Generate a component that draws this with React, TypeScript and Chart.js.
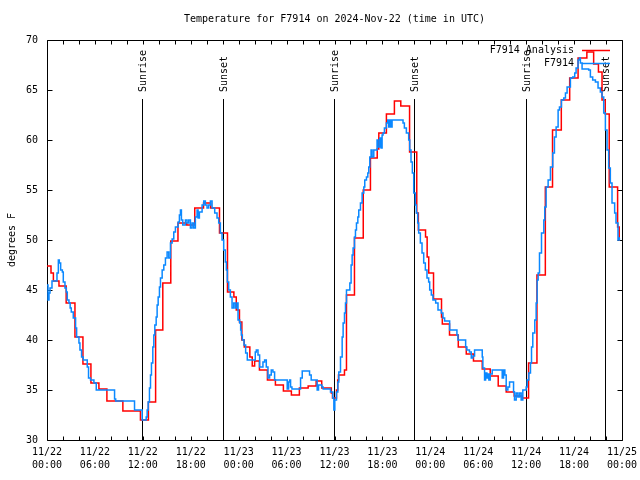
import React, { useEffect, useRef } from "react";
import { Chart, registerables } from "chart.js";

Chart.register(...registerables);

const FONT = '"DejaVu Sans Mono", "Liberation Mono", monospace';

const chartTitle = "Temperature for F7914 on 2024-Nov-22 (time in UTC)";
const yAxisTitle = "degrees F";
const analysisLabel = "F7914 Analysis";
const obsLabel = "F7914";
const analysisColor = "#ff0000";
const obsColor = "#0a88ff";

// hours since 2024-11-22 00:00 UTC where each value starts (step series)
const analysisHours = [
  0, 0.5, 0.8, 1.5, 2.4, 3.5, 4.5, 5.5, 6.5, 7.5,
  9.5, 11.7, 12.7, 13.6, 14.5, 15.5, 16.4, 17.5, 18.5, 19.6,
  20.5, 21.6, 22.6, 23.4, 23.7, 24.1, 24.4, 24.7, 25.4, 25.7,
  26.0, 26.6, 27.6, 28.6, 29.6, 30.6, 31.6, 32.7, 33.7, 34.4,
  35.6, 35.75, 36.25, 36.4, 36.5, 37.25, 37.5, 38.5, 39.6, 40.5,
  41.35, 41.55, 42.5, 43.5, 44.3, 45.4, 46.3, 46.5, 47.4, 47.6,
  47.8, 48.4, 49.4, 49.5, 50.4, 51.5, 52.5, 53.4, 54.5, 55.5,
  56.5, 57.5, 58.5, 59.5, 60.3, 61.35, 62.4, 63.3, 64.4, 65.45,
  66.5, 67.6, 68.45, 69.05, 69.5, 69.9, 70.4, 71.45, 71.65,
];
const analysisTemps = [
  47.4, 46.7, 45.9, 45.4, 43.7, 40.3, 37.6, 35.7, 35.1, 33.9,
  32.9, 32.0, 33.8, 41.0, 45.7, 49.9, 51.7, 51.5, 53.2, 53.7,
  53.2, 50.7, 44.8, 44.3, 43.0, 41.8, 40.0, 39.3, 38.3, 37.4,
  37.9, 37.0, 36.0, 35.5, 34.9, 34.5, 35.2, 35.4, 35.9, 35.2,
  34.7, 34.2, 35.0, 36.0, 36.5, 37.0, 44.5, 50.2, 55.0, 58.2,
  59.1, 60.7, 62.6, 63.9, 63.4, 58.8, 52.7, 51.0, 50.3, 48.3,
  46.7, 44.1, 42.3, 41.6, 40.5, 39.3, 38.6, 37.9, 37.1, 36.4,
  35.4, 34.8, 34.4, 34.2, 37.7, 46.5, 55.3, 61.0, 64.0, 66.2,
  68.2, 68.8, 67.6, 66.8, 64.0, 62.6, 55.3, 51.3, 50.0,
];

const obsHours = [
  0, 0.125, 0.25, 0.375, 0.625, 1.25, 1.42, 1.54, 1.71, 1.92,
  2.04, 2.25, 2.42, 2.54, 2.75, 2.9, 3.04, 3.29, 3.58, 3.71,
  4.0, 4.125, 4.33, 4.54, 5.04, 5.2, 5.45, 5.875, 6.17, 8.46,
  8.6, 10.96, 11.92, 12.42, 12.54, 12.67, 12.83, 12.96, 13.08, 13.25,
  13.375, 13.5, 13.67, 13.79, 13.92, 14.08, 14.21, 14.42, 14.625, 14.83,
  15.04, 15.25, 15.46, 15.67, 15.875, 16.08, 16.42, 16.58, 16.71, 16.83,
  17.0, 17.33, 17.54, 17.75, 17.96, 18.17, 18.375, 18.58, 18.79, 18.92,
  19.08, 19.42, 19.625, 19.83, 20.04, 20.25, 20.46, 20.67, 21.0, 21.29,
  21.5, 21.71, 21.92, 22.125, 22.33, 22.46, 22.58, 22.75, 22.96, 23.17,
  23.375, 23.58, 23.79, 23.92, 24.125, 24.25, 24.33, 24.46, 24.67, 24.875,
  25.08, 26.08, 26.21, 26.42, 26.625, 27.04, 27.25, 27.46, 27.67, 27.875,
  28.08, 28.29, 28.5, 30.08, 30.25, 30.375, 30.5, 30.67, 31.75, 31.96,
  32.875, 33.08, 33.83, 34.0, 34.42, 34.58, 35.5, 35.79, 35.92, 36.04,
  36.25, 36.42, 36.54, 36.75, 36.96, 37.08, 37.25, 37.375, 37.5, 37.92,
  38.08, 38.21, 38.33, 38.5, 38.625, 38.75, 38.92, 39.04, 39.25, 39.46,
  39.67, 39.79, 40.0, 40.17, 40.29, 40.42, 40.58, 40.71, 40.92, 41.33,
  41.46, 41.67, 41.83, 41.96, 42.08, 42.25, 42.5, 42.67, 42.79, 42.92,
  43.08, 43.21, 44.58, 44.75, 45.0, 45.29, 45.42, 45.58, 45.75, 45.92,
  46.125, 46.25, 46.42, 46.54, 46.75, 46.96, 47.17, 47.375, 47.58, 47.79,
  47.92, 48.125, 48.33, 48.67, 48.96, 49.375, 49.58, 49.79, 50.42, 51.33,
  51.46, 52.42, 52.58, 52.9, 53.125, 53.33, 53.54, 54.5, 54.58, 54.79,
  54.92, 55.08, 55.21, 55.33, 55.5, 55.75, 57.0, 57.17, 57.33, 57.5,
  57.71, 57.92, 58.42, 58.54, 58.75, 58.96, 59.17, 59.375, 59.58, 60.0,
  60.125, 60.33, 60.54, 60.67, 60.83, 61.08, 61.25, 61.375, 61.5, 61.67,
  61.92, 62.21, 62.33, 62.5, 62.75, 63.04, 63.33, 63.54, 63.75, 64.0,
  64.17, 64.42, 64.71, 64.92, 65.125, 65.54, 65.83, 66.08, 66.25, 66.5,
  66.67, 66.79, 67.0, 67.83, 68.04, 68.33, 68.67, 69.0, 69.29, 69.5,
  69.71, 69.92, 70.125, 70.33, 70.54, 70.75, 71.08, 71.25, 71.5, 71.67,
];
const obsTemps = [
  45.5, 44.0, 44.7, 45.2, 45.9, 46.7, 48.0, 47.7, 47.0, 46.8,
  45.8, 45.2, 44.8, 44.0, 43.7, 43.2, 42.8, 42.2, 41.2, 40.3,
  39.7, 39.0, 38.3, 38.0, 37.3, 36.2, 36.0, 35.7, 35.0, 34.1,
  33.9, 33.0, 32.0, 32.3, 33.0, 33.8, 35.2, 36.5, 37.7, 39.3,
  40.5, 41.5, 42.3, 43.5, 44.3, 45.3, 46.2, 47.0, 47.5, 48.2,
  48.8, 48.2, 49.7, 50.1, 50.8, 51.3, 51.8, 52.5, 53.0, 52.0,
  51.5, 52.0, 51.7, 52.0, 51.2, 51.7, 51.2, 52.3, 53.0, 52.2,
  52.8, 53.5, 53.9, 53.5, 53.2, 53.5, 53.9, 53.2, 52.7, 52.2,
  51.7, 50.7, 50.0, 49.0, 47.8, 47.0, 45.8, 45.0, 44.3, 43.2,
  43.7, 43.2, 43.7, 42.0, 41.7, 41.0, 40.5, 40.0, 39.5, 38.7,
  38.0, 38.8, 39.0, 38.5, 37.3, 37.8, 38.0, 37.3, 36.2, 36.5,
  37.0, 36.8, 36.0, 35.1, 35.8, 36.0, 35.3, 35.1, 36.2, 36.9,
  36.5, 36.0, 35.0, 35.5, 35.3, 35.1, 34.8, 34.2, 33.0, 34.0,
  34.8, 35.8, 36.8, 38.3, 40.3, 41.7, 42.7, 43.7, 45.0, 45.7,
  47.5, 48.5, 49.2, 50.3, 51.0, 51.7, 52.3, 53.0, 53.7, 54.7,
  55.3, 56.0, 56.3, 56.7, 57.3, 58.3, 59.0, 58.3, 59.0, 60.0,
  59.3, 60.2, 59.2, 60.5, 60.7, 61.2, 61.7, 62.0, 61.3, 62.0,
  61.3, 62.0, 61.7, 61.2, 60.7, 60.0, 59.0, 57.8, 56.7, 54.7,
  53.5, 52.7, 51.7, 50.7, 49.7, 48.7, 47.7, 47.0, 46.2, 45.8,
  45.0, 44.5, 44.0, 43.7, 43.0, 42.7, 42.2, 41.9, 41.0, 40.5,
  40.0, 39.3, 39.0, 38.8, 38.2, 38.4, 39.0, 38.3, 37.2, 36.0,
  36.7, 36.2, 36.6, 36.0, 36.6, 37.0, 36.2, 37.0, 36.5, 35.0,
  35.3, 35.8, 34.8, 34.0, 34.7, 34.3, 34.7, 34.0, 35.0, 35.3,
  36.0, 36.7, 37.7, 39.3, 40.7, 42.0, 43.7, 46.0, 46.7, 48.7,
  50.7, 52.0, 53.3, 55.3, 56.0, 57.3, 58.7, 60.3, 61.3, 63.0,
  63.3, 64.0, 64.2, 64.7, 65.3, 66.2, 66.3, 66.7, 67.2, 68.0,
  68.2, 67.7, 67.1, 67.0, 66.3, 66.0, 65.8, 65.2, 64.8, 64.3,
  62.7, 61.0, 59.0, 57.2, 55.7, 53.7, 52.7, 51.7, 50.0, 50.2,
];
const dataEndHour = 71.75;

const xMin = 0;
const xMax = 72;
const xLabelStep = 6;
const xMinorStep = 2;
const xTickDates = ["11/22", "11/22", "11/22", "11/22", "11/23", "11/23", "11/23", "11/23", "11/24", "11/24", "11/24", "11/24", "11/25"];
const xTickTimes = ["00:00", "06:00", "12:00", "18:00", "00:00", "06:00", "12:00", "18:00", "00:00", "06:00", "12:00", "18:00", "00:00"];
const yMin = 30;
const yMax = 70;
const yStep = 5;

const sunEventHours = [11.9, 22.03, 35.92, 45.95, 59.93, 69.9];
const sunEventLabels = ["Sunrise", "Sunset", "Sunrise", "Sunset", "Sunrise", "Sunset"];
const sunLineTopValue = 64.1;
const sunLabelBaseValue = 64.8;

function toSteps(hours: number[], temps: number[], end: number) {
  const pts = hours.map((h, i) => ({ x: h, y: temps[i] }));
  pts.push({ x: end, y: temps[temps.length - 1] });
  return pts;
}

const crisp = (v: number) => Math.round(v) + 0.5;

const gnuplotFrame = {
  id: "gnuplotFrame",
  beforeDatasetsDraw(chart: any) {
    const { ctx, chartArea: a, scales } = chart;
    const xs = scales.x;
    const ys = scales.y;
    const L = crisp(a.left), R = crisp(a.right), T = crisp(a.top), B = crisp(a.bottom);
    ctx.save();
    ctx.strokeStyle = "#000";
    ctx.lineWidth = 1;
    ctx.beginPath();
    ctx.rect(L, T, R - L, B - T);
    ys.ticks.forEach((t: any) => {
      const py = crisp(ys.getPixelForValue(t.value));
      ctx.moveTo(L, py); ctx.lineTo(L + 5, py);
      ctx.moveTo(R, py); ctx.lineTo(R - 5, py);
    });
    for (let h = xMin; h <= xMax; h += xMinorStep) {
      const px = crisp(xs.getPixelForValue(h));
      ctx.moveTo(px, B); ctx.lineTo(px, B - 4);
      ctx.moveTo(px, T); ctx.lineTo(px, T + 4);
    }
    ctx.stroke();

    ctx.fillStyle = "#000";
    ctx.font = `10px ${FONT}`;
    ctx.textAlign = "left";
    ctx.textBaseline = "middle";
    sunEventHours.forEach((h, i) => {
      const px = crisp(xs.getPixelForValue(h));
      ctx.beginPath();
      ctx.moveTo(px, Math.round(ys.getPixelForValue(sunLineTopValue)));
      ctx.lineTo(px, B);
      ctx.stroke();
      ctx.save();
      ctx.translate(px + 1, ys.getPixelForValue(sunLabelBaseValue));
      ctx.rotate(-Math.PI / 2);
      ctx.fillText(sunEventLabels[i], 0, 0);
      ctx.restore();
    });
    ctx.restore();
  },
  afterDatasetsDraw(chart: any) {
    const { ctx, chartArea: a } = chart;
    ctx.save();
    ctx.font = `10px ${FONT}`;
    ctx.textAlign = "right";
    ctx.textBaseline = "middle";
    chart.data.datasets.forEach((ds: any, i: number) => {
      const y = Math.round(a.top + 10 + i * 13) + 0.5;
      ctx.fillStyle = "#000";
      ctx.fillText(ds.label, a.right - 48, y);
      ctx.strokeStyle = ds.borderColor;
      ctx.lineWidth = 1.5;
      ctx.beginPath();
      ctx.moveTo(a.right - 40, y);
      ctx.lineTo(a.right - 12, y);
      ctx.stroke();
    });
    ctx.restore();
  },
};

export default function App() {
  const ref = useRef<HTMLCanvasElement | null>(null);

  useEffect(() => {
    document.body.style.margin = "0";
    const canvas = ref.current;
    if (!canvas) return;
    const chart = new Chart(canvas, {
      type: "line",
      data: {
        datasets: [
          {
            label: analysisLabel,
            data: toSteps(analysisHours, analysisTemps, dataEndHour),
            borderColor: analysisColor,
            borderWidth: 1.5,
            stepped: true,
            pointRadius: 0,
            fill: false,
            order: 1,
          },
          {
            label: obsLabel,
            data: toSteps(obsHours, obsTemps, dataEndHour),
            borderColor: obsColor,
            borderWidth: 1.5,
            stepped: true,
            pointRadius: 0,
            fill: false,
            order: 0,
          },
        ],
      },
      options: {
        responsive: false,
        animation: false,
        devicePixelRatio: 1,
        layout: { padding: { left: 0, right: 18, top: 0, bottom: 0 } },
        plugins: {
          legend: { display: false },
          tooltip: { enabled: false },
          title: {
            display: true,
            fullSize: false,
            text: chartTitle,
            color: "#000",
            font: { family: FONT, size: 10, weight: "normal" },
            padding: { top: 13, bottom: 15 },
          },
        },
        scales: {
          x: {
            type: "linear",
            min: xMin,
            max: xMax,
            grid: { display: false, drawTicks: false },
            border: { display: false },
            ticks: {
              stepSize: xLabelStep,
              autoSkip: false,
              maxRotation: 0,
              minRotation: 0,
              padding: 6,
              color: "#000",
              font: { family: FONT, size: 10, lineHeight: 1.3 },
              callback: (_v: any, i: number) => [xTickDates[i], xTickTimes[i]],
            },
            afterFit: (s: any) => {
              s.height = 40;
              s.paddingLeft = 0;
              s.paddingRight = 0;
            },
          },
          y: {
            type: "linear",
            min: yMin,
            max: yMax,
            grid: { display: false, drawTicks: false },
            border: { display: false },
            ticks: {
              stepSize: yStep,
              padding: 9,
              color: "#000",
              font: { family: FONT, size: 10 },
            },
            title: {
              display: true,
              text: yAxisTitle,
              color: "#000",
              font: { family: FONT, size: 10 },
              padding: { top: 6, bottom: 0 },
            },
            afterFit: (s: any) => {
              s.width = 47;
            },
          },
        },
      },
      plugins: [gnuplotFrame],
    } as any);
    return () => chart.destroy();
  }, []);

  return (
    <div style={{ position: "fixed", left: 0, top: 0, width: 640, height: 480, background: "#fff" }}>
      <canvas ref={ref} width={640} height={480} style={{ width: 640, height: 480 }} />
    </div>
  );
}
